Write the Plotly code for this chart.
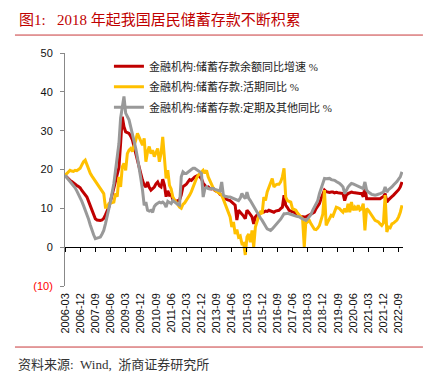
import plotly.graph_objects as go
import pandas as pd

# ---- data ----
months = pd.date_range("2006-03-01", periods=201, freq="MS").strftime("%Y-%m").tolist()

tick_labels = ["2006-03", "2006-12", "2007-09", "2008-06", "2009-03", "2009-12", "2010-09",
               "2011-06", "2012-03", "2012-12", "2013-09", "2014-06", "2015-03", "2015-12",
               "2016-09", "2017-06", "2018-03", "2018-12", "2019-09", "2020-06", "2021-03",
               "2021-12", "2022-09"]

total_yoy = [
    18.5, 18.0, 17.6, 17.2, 16.9, 16.5, 16.2, 15.9, 15.6, 15.3,
    14.6, 14.0, 13.4, 12.9, 11.8, 10.6, 9.4, 8.2, 7.3, 7.0,
    6.9, 6.9, 7.0, 7.4, 8.3, 9.3, 10.3, 11.8, 13.4, 15.0,
    16.6, 18.2, 20.5, 26.7, 33.6, 31.0, 29.7, 29.5, 29.3, 28.6,
    27.6, 25.8, 24.0, 22.3, 20.7, 18.8, 17.2, 16.0, 15.5, 16.8,
    15.4, 14.7, 15.2, 15.5, 16.3, 16.8, 15.8, 15.5, 17.5, 16.0,
    13.0, 14.5, 13.4, 13.6, 12.3, 12.0, 11.8, 12.0, 12.2, 13.5,
    15.6, 15.9, 16.2, 16.8, 17.4, 17.2, 17.8, 18.1, 18.3, 18.5,
    18.1, 17.6, 16.5, 16.0, 15.4, 15.5, 15.1, 15.0, 15.1, 14.6,
    14.4, 14.2, 13.6, 13.4, 12.9, 12.5, 12.3, 12.1, 12.0, 11.6,
    11.2, 10.8, 7.0, 9.5, 9.0, 8.6, 8.0, 7.3, 9.5, 9.0,
    8.4, 7.8, 6.0, 7.8, 8.3, 8.6, 8.8, 8.9, 9.0, 9.3,
    9.2, 9.5, 9.3, 9.1, 9.0, 9.3, 9.4, 9.5, 9.9, 10.3,
    13.4, 10.8, 10.2, 9.5, 9.3, 9.2, 9.0, 8.6, 8.2, 8.0,
    7.9, 7.8, 7.8, 7.8, 8.0, 8.2, 8.4, 8.6, 9.0, 9.9,
    10.6, 11.2, 12.5, 13.8, 14.7, 14.3, 14.2, 14.1, 14.2, 14.2,
    14.0, 14.1, 14.0, 13.9, 13.8, 13.8, 12.0, 13.4, 13.8, 14.0,
    14.2, 14.1, 14.0, 14.0, 13.9, 13.8, 13.8, 13.0, 15.5, 12.5,
    12.5, 12.5, 12.4, 12.5, 12.5, 12.4, 12.5, 12.5, 12.8, 13.0,
    13.8, 11.6, 12.2, 12.5, 13.0, 13.4, 13.8, 14.3, 14.8, 15.5,
    16.8,
]

demand_yoy = [
    18.5, 19.0, 19.4, 19.8, 19.6, 19.5, 19.8, 19.7, 20.0, 20.3,
    21.2, 22.0, 22.4, 21.1, 20.0, 19.0, 18.3, 17.7, 17.0, 16.4,
    15.7, 15.1, 14.5, 13.8, 10.3, 10.3, 11.2, 11.4, 11.6, 11.6,
    13.8, 13.0, 18.1, 15.5, 20.7, 21.6, 19.8, 24.1, 25.0, 25.4,
    24.6, 25.9, 27.6, 29.3, 28.4, 27.4, 26.3, 28.0, 22.0, 24.6,
    25.9, 24.1, 25.0, 23.3, 24.6, 25.4, 22.0, 24.1, 28.4, 21.6,
    17.7, 19.8, 15.9, 15.0, 12.9, 12.2, 11.6, 10.8, 10.3, 10.0,
    11.0, 11.4, 12.0, 12.6, 13.4, 14.3, 15.5, 16.6, 17.7, 18.5,
    19.0, 19.4, 19.8, 19.0, 19.8, 18.1, 17.0, 15.9, 15.2, 14.7,
    14.4, 14.2, 13.8, 13.4, 12.3, 11.2, 9.9, 8.6, 7.8, 5.2,
    6.5, 3.4, 4.5, 2.6, 2.9, 0.9, 1.0, -2.0, 2.6, 3.4,
    1.3, 4.3, 0.0, 5.2, 6.9, 8.0, 9.0, 8.6, 12.9, 12.0,
    14.2, 15.5, 16.4, 17.7, 15.5, 16.0, 16.2, 16.2, 16.8, 18.1,
    20.3, 12.9, 12.0, 11.8, 11.6, 9.9, 9.7, 9.5, 8.8, 8.2,
    7.8, 7.3, 0.0, 7.0, 6.5, 6.9, 6.0, 5.4, 4.6, 4.5,
    4.9, 5.6, 7.0, 8.5, 14.7, 5.6, 6.5, 7.4, 8.2, 8.0,
    9.0, 10.3, 10.1, 9.9, 9.4, 9.0, 9.9, 9.0, 11.2, 9.0,
    11.6, 9.5, 10.3, 9.6, 10.8, 9.6, 9.9, 11.2, 4.3, 9.9,
    9.5, 8.8, 8.2, 7.5, 6.9, 6.7, 6.5, 6.0, 5.6, 6.2,
    13.4, 3.9, 5.2, 5.0, 6.0, 6.2, 6.5, 7.0, 7.8, 9.0,
    10.8,
]

time_yoy = [
    18.5, 18.0, 17.4, 16.9, 16.4, 16.0, 15.3, 14.5, 13.7, 12.9,
    11.8, 10.7, 9.6, 8.6, 7.2, 5.7, 4.3, 3.2, 2.2, 2.3,
    2.4, 2.6, 3.4, 4.3, 6.0, 7.8, 9.5, 11.8, 14.1, 16.4,
    19.8, 23.2, 26.7, 33.2, 36.0, 38.8, 34.5, 33.6, 32.8, 31.0,
    29.3, 27.3, 25.4, 23.0, 20.7, 17.7, 14.7, 10.8, 11.6, 9.5,
    9.3, 9.5, 9.0, 10.5, 11.0, 11.2, 11.6, 11.4, 11.6, 11.2,
    10.3, 11.8, 11.4, 11.2, 12.0, 11.6, 11.2, 11.0, 10.8, 18.1,
    19.4, 19.0, 19.0, 19.4, 19.8, 20.0, 20.3, 20.3, 20.0, 19.8,
    19.4, 19.0, 12.9, 15.0, 15.5, 15.1, 15.0, 15.1, 15.1, 14.9,
    14.8, 14.7, 14.5, 16.8, 13.4, 13.1, 12.9, 12.9, 12.9, 12.7,
    12.6, 12.5, 12.3, 12.0, 12.6, 13.8, 13.0, 12.5, 14.2, 12.6,
    12.0, 11.2, 10.5, 9.8, 9.0, 8.2, 7.5, 6.9, 6.2, 5.4,
    4.7, 4.5, 4.3, 4.7, 5.2, 5.6, 6.0, 6.5, 7.2, 7.9,
    8.6, 8.6, 8.7, 8.6, 8.4, 8.3, 8.2, 8.0, 7.9, 7.8,
    7.5, 7.3, 7.1, 6.9, 7.3, 7.8, 8.4, 9.5, 10.4, 11.0,
    12.0, 13.8, 15.0, 16.4, 17.7, 17.6, 17.7, 17.7, 17.4, 17.3,
    17.2, 16.9, 16.7, 16.4, 16.0, 15.5, 13.8, 14.8, 15.5, 16.0,
    16.4, 16.3, 16.1, 16.0, 15.8, 15.6, 15.5, 15.1, 16.8, 14.7,
    14.2, 13.8, 13.6, 13.5, 13.4, 13.5, 13.6, 13.8, 14.0, 14.2,
    15.5, 14.2, 14.8, 15.1, 15.5, 16.0, 16.4, 16.9, 17.5, 18.1,
    19.4,
]

series_names = ["金融机构:储蓄存款余额同比增速 %",
                "金融机构:储蓄存款:活期同比 %",
                "金融机构:储蓄存款:定期及其他同比 %"]
series_colors = ["#C00000", "#FFC000", "#999999"]

y_ticks = [-10, 0, 10, 20, 30, 40, 50]
y_tick_text = ['<span style="color:#FF0000">(10)</span>', "0", "10", "20", "30", "40", "50"]

# ---- figure ----
idx = list(range(len(months)))
tick_pos = [months.index(t) for t in tick_labels]

CJK = "Liberation Serif, Noto Sans CJK SC"

fig = go.Figure()
for name, vals, col in zip(series_names, [total_yoy, demand_yoy, time_yoy], series_colors):
    fig.add_trace(go.Scatter(x=idx, y=vals, name=name, mode="lines",
                             line=dict(color=col, width=3), legendgroup=name))

# invisible trace to carry the zero-line axis
fig.add_trace(go.Scatter(x=[idx[0], idx[-1]], y=[None, None], xaxis="x2",
                         showlegend=False, hoverinfo="skip", mode="lines"))

xr = [0, 200.6]
fig.update_layout(
    width=438, height=381,
    margin=dict(l=57, r=43, t=45, b=103, autoexpand=False),
    paper_bgcolor="white", plot_bgcolor="white",
    showlegend=True,
    legend=dict(x=0.13, y=1.005, xanchor="left", yanchor="top",
                bgcolor="rgba(0,0,0,0)", borderwidth=0,
                font=dict(family=CJK, size=11, color="#222222"),
                tracegroupgap=1.5),
    xaxis=dict(range=xr, showline=False, ticks="", showgrid=False, zeroline=False,
               tickmode="array", tickvals=tick_pos, ticktext=tick_labels,
               tickangle=-90, tickfont=dict(family="Liberation Sans, Arial", size=11, color="#111111"),
               ticklabelstandoff=4),
    xaxis2=dict(range=xr, overlaying="x", anchor="free", position=1/6, side="bottom",
                showline=True, linecolor="#000000", linewidth=1,
                ticks="outside", ticklen=4, tickcolor="#000000",
                tickmode="array", tickvals=tick_pos, showticklabels=False,
                showgrid=False, zeroline=False),
    yaxis=dict(range=[-10, 50], tickmode="array", tickvals=y_ticks, ticktext=y_tick_text,
               showline=True, linecolor="#888888", linewidth=1,
               ticks="outside", ticklen=4, tickcolor="#888888",
               showgrid=False, zeroline=False,
               tickfont=dict(family="Liberation Sans, Arial", size=11, color="#111111"),
               ticklabelstandoff=5),
    shapes=[
        dict(type="line", xref="paper", yref="paper", x0=-0.148, x1=1.059, y0=1.077, y1=1.077,
             line=dict(color="#C8393B", width=1)),
        dict(type="line", xref="paper", yref="paper", x0=-0.148, x1=1.059, y0=-0.262, y1=-0.262,
             line=dict(color="#C8393B", width=1)),
    ],
    annotations=[
        dict(text="图1:\u00a0\u00a0\u00a02018 年起我国居民储蓄存款不断积累", xref="paper", yref="paper",
             x=-0.142, y=1.142, xanchor="left", yanchor="middle", showarrow=False,
             font=dict(family=CJK, size=15, color="#C00000")),
        dict(text="资料来源:\u00a0\u00a0Wind,\u00a0\u00a0浙商证券研究所", xref="paper", yref="paper",
             x=-0.145, y=-0.335, xanchor="left", yanchor="middle", showarrow=False,
             font=dict(family=CJK, size=13, color="#333333")),
    ],
)

fig.write_html("out.html")
